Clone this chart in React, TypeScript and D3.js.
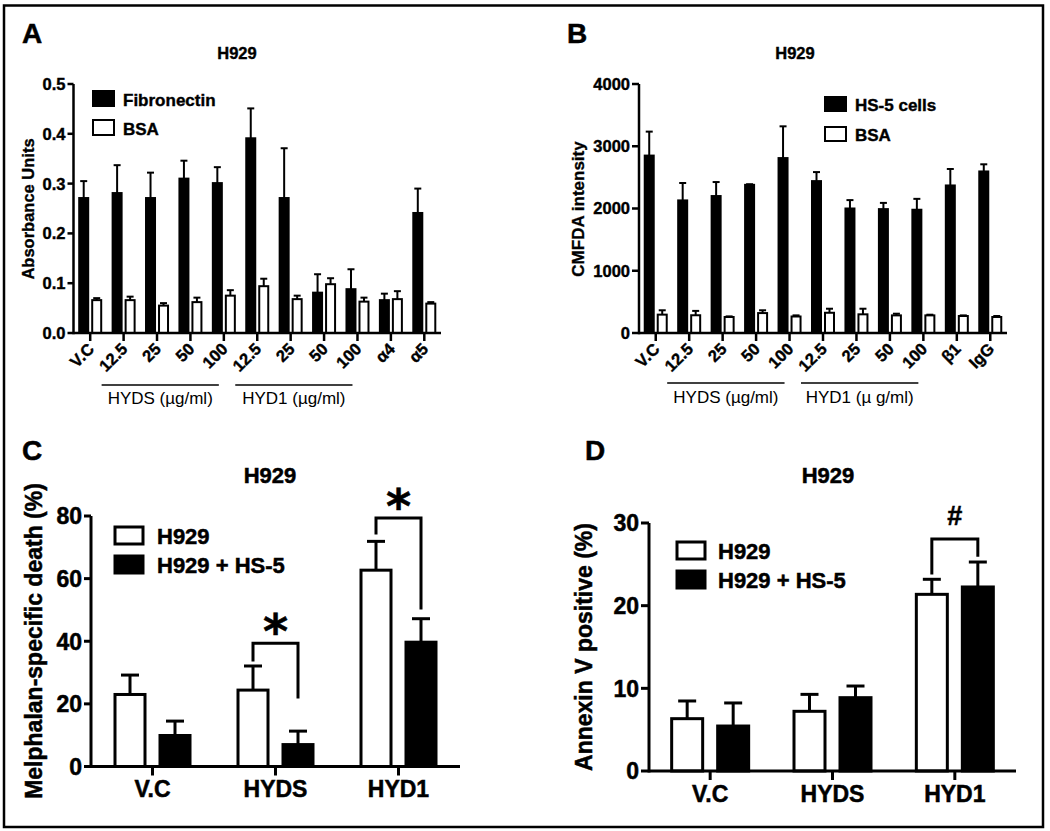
import React from 'react';
import * as d3 from 'd3';

// ---------- DATA ----------
const catsA = ['V.C', '12.5', '25', '50', '100', '12.5', '25', '50', '100', 'α4', 'α5'];
const fibronectin = [0.271, 0.281, 0.271, 0.31, 0.301, 0.391, 0.271, 0.081, 0.088, 0.066, 0.241];
const fibronectinErr = [0.034, 0.056, 0.051, 0.036, 0.032, 0.06, 0.1, 0.037, 0.04, 0.013, 0.049];
const bsaA = [0.066, 0.066, 0.055, 0.062, 0.075, 0.094, 0.068, 0.098, 0.063, 0.068, 0.059];
const bsaAErr = [0.004, 0.007, 0.005, 0.009, 0.011, 0.015, 0.007, 0.012, 0.008, 0.016, 0.003];
const ticksA = [0, 0.1, 0.2, 0.3, 0.4, 0.5];

const catsB = ['V.C', '12.5', '25', '50', '100', '12.5', '25', '50', '100', 'β1', 'IgG'];
const hs5Cells = [2850, 2130, 2200, 2380, 2810, 2440, 2000, 1990, 1980, 2370, 2595];
const hs5CellsErr = [385, 280, 225, 10, 510, 145, 135, 100, 175, 265, 115];
const bsaB = [295, 285, 257, 320, 265, 325, 300, 283, 283, 273, 257];
const bsaBErr = [70, 70, 10, 45, 18, 65, 90, 27, 11, 10, 16];
const ticksB = [0, 1000, 2000, 3000, 4000];

const catsCD = ['V.C', 'HYDS', 'HYD1'];
const deathH929 = [23.0, 24.4, 62.7];
const deathH929Err = [6.2, 7.7, 9.2];
const deathHS5 = [9.9, 7.0, 39.7];
const deathHS5Err = [4.6, 4.3, 7.5];
const ticksC = [0, 20, 40, 60, 80];

const annexH929 = [6.33, 7.22, 21.37];
const annexH929Err = [2.14, 2.05, 1.82];
const annexHS5 = [5.44, 8.87, 22.26];
const annexHS5Err = [2.79, 1.41, 3.02];
const ticksD = [0, 10, 20, 30];

// brackets: [group index, top value, left end value, right end value, symbol]
const bracketsC: [number, number, number, number, string][] = [
  [1, 39.4, 34, 22.2, '*'],
  [2, 79.4, 74.6, 50.6, '*'],
];
const bracketsD: [number, number, number, number, string][] = [[2, 28.06, 23.95, 26.1, '#']];

// sub-group labels [first index, last index, text]
const groupsA: [number, number, string][] = [
  [1, 4, 'HYDS (µg/ml)'],
  [5, 8, 'HYD1 (µg/ml)'],
];
const groupsB: [number, number, string][] = [
  [1, 4, 'HYDS (µg/ml)'],
  [5, 8, 'HYD1 (µ g/ml)'],
];

const FONT = '"Liberation Sans", Arial, Helvetica, sans-serif';

type Series = { values: number[]; errs: number[]; fill: string; off: number };

type PanelProps = {
  cats: string[];
  series: Series[];
  max: number;
  ticks: number[];
  fmt: (v: number) => string;
  xL: number;
  xR: number;
  yB: number;
  yT: number;
  barW: number;
  capW: number;
  sw: number;
  axisW: number;
  tickFont: number;
  catFont: number;
  rotate: boolean;
  yTickLen: number;
  xTickLen: number;
  labelGap: number;
  catBaseline: number;
  heavy: number;
  brackets?: [number, number, number, number, string][];
  groups?: [number, number, string][];
  groupLineY?: number;
  groupTextY?: number;
};

function Panel(p: PanelProps) {
  const x = d3
    .scaleBand<string>()
    .domain(p.cats.map((_, i) => String(i)))
    .range([p.xL, p.xR]);
  const y = d3.scaleLinear().domain([0, p.max]).range([p.yB, p.yT]);
  const cx = (i: number) => (x(String(i)) as number) + x.bandwidth() / 2;
  const els: React.ReactNode[] = [];
  const heavyProps = { stroke: '#000', strokeWidth: p.heavy };

  p.series.forEach((s, si) => {
    s.values.forEach((v, i) => {
      const bx = cx(i) + s.off;
      const top = y(v);
      const et = y(v + s.errs[i]);
      els.push(
        <g key={`b${si}-${i}`}>
          <line x1={bx} x2={bx} y1={top} y2={et} stroke="#000" strokeWidth={p.sw} />
          <line x1={bx - p.capW / 2} x2={bx + p.capW / 2} y1={et} y2={et} stroke="#000" strokeWidth={p.sw} />
          <rect
            x={bx - p.barW / 2}
            y={top}
            width={p.barW}
            height={p.yB - top}
            fill={s.fill}
            stroke="#000"
            strokeWidth={p.sw}
          />
        </g>
      );
    });
  });

  // axes
  els.push(
    <line key="yaxis" x1={p.xL} x2={p.xL} y1={p.yB + p.axisW / 2} y2={p.yT} stroke="#000" strokeWidth={p.axisW} />
  );
  els.push(<line key="xaxis" x1={p.xL} x2={p.xR} y1={p.yB} y2={p.yB} stroke="#000" strokeWidth={p.axisW} />);
  p.ticks.forEach((t) => {
    els.push(
      <g key={`yt${t}`}>
        <line x1={p.xL - p.yTickLen} x2={p.xL} y1={y(t)} y2={y(t)} stroke="#000" strokeWidth={p.axisW} />
        <text
          x={p.xL - p.yTickLen - p.labelGap}
          y={y(t)}
          dy="0.36em"
          textAnchor="end"
          fontFamily={FONT}
          fontWeight="bold"
          fontSize={p.tickFont}
          {...heavyProps}
        >
          {p.fmt(t)}
        </text>
      </g>
    );
  });
  p.cats.forEach((c, i) => {
    const xx = cx(i);
    els.push(
      <line key={`xt${i}`} x1={xx} x2={xx} y1={p.yB} y2={p.yB + p.xTickLen} stroke="#000" strokeWidth={p.axisW} />
    );
    if (p.rotate) {
      els.push(
        <text
          key={`xl${i}`}
          transform={`translate(${xx + 5},${p.catBaseline}) rotate(-45)`}
          textAnchor="end"
          fontFamily={FONT}
          fontWeight="bold"
          fontSize={p.catFont}
          {...heavyProps}
        >
          {c}
        </text>
      );
    } else {
      els.push(
        <text
          key={`xl${i}`}
          x={xx}
          y={p.catBaseline}
          textAnchor="middle"
          fontFamily={FONT}
          fontWeight="bold"
          fontSize={p.catFont}
          {...heavyProps}
        >
          {c}
        </text>
      );
    }
  });

  (p.groups || []).forEach(([a, b, label], gi) => {
    const x1 = cx(a) - 22;
    const x2 = cx(b) - 5;
    els.push(
      <g key={`grp${gi}`}>
        <line x1={x1} x2={x2} y1={p.groupLineY} y2={p.groupLineY} stroke="#000" strokeWidth={1.5} />
        <text x={(x1 + x2) / 2} y={p.groupTextY} textAnchor="middle" fontFamily={FONT} fontSize={17}>
          {label}
        </text>
      </g>
    );
  });

  (p.brackets || []).forEach(([g, top, l, r, sym], bi) => {
    const lx = cx(g) + p.series[0].off;
    const rx = cx(g) + p.series[1].off;
    const ty = y(top);
    const path = `M${lx},${y(l)}V${ty}H${rx}V${y(r)}`;
    const isStar = sym === '*';
    els.push(
      <g key={`br${bi}`}>
        <path d={path} fill="none" stroke="#000" strokeWidth={p.sw} strokeLinecap="square" />
        <text
          x={cx(g)}
          y={isStar ? ty + 5 : ty - 14}
          textAnchor="middle"
          fontFamily={isStar ? '"DejaVu Sans", sans-serif' : FONT}
          fontWeight="bold"
          fontSize={isStar ? 48 : 27}
          {...heavyProps}
        >
          {sym}
        </text>
      </g>
    );
  });

  return <g>{els}</g>;
}

function Legend({
  x,
  ys,
  w,
  h,
  items,
  textX,
  font,
  sw,
  heavy,
}: {
  x: number;
  ys: number[];
  w: number;
  h: number;
  items: [string, string][];
  textX: number;
  font: number;
  sw: number;
  heavy: number;
}) {
  return (
    <g>
      {items.map(([label, fill], i) => (
        <g key={label}>
          <rect x={x} y={ys[i]} width={w} height={h} fill={fill} stroke="#000" strokeWidth={sw} />
          <text
            x={textX}
            y={ys[i] + h}
            fontFamily={FONT}
            fontWeight="bold"
            fontSize={font}
            stroke="#000"
            strokeWidth={heavy}
          >
            {label}
          </text>
        </g>
      ))}
    </g>
  );
}

const Label = ({ x, y, t, size, anchor = 'start', heavy = 0.3 }: any) => (
  <text
    x={x}
    y={y}
    fontFamily={FONT}
    fontWeight="bold"
    fontSize={size}
    textAnchor={anchor}
    stroke="#000"
    strokeWidth={heavy}
  >
    {t}
  </text>
);

const YTitle = ({ x, y, t, size, heavy = 0.3 }: any) => (
  <text
    transform={`translate(${x},${y}) rotate(-90)`}
    textAnchor="middle"
    fontFamily={FONT}
    fontWeight="bold"
    fontSize={size}
    stroke="#000"
    strokeWidth={heavy}
  >
    {t}
  </text>
);

export default function App() {
  const fmtA = d3.format('.1f');
  const fmtInt = d3.format('d');
  return (
    <svg
      width={1050}
      height={831}
      style={{ position: 'absolute', left: 0, top: 0, background: '#fff' }}
      viewBox="0 0 1050 831"
    >
      <rect x={0} y={0} width={1050} height={831} fill="#fff" />
      <rect x={4} y={5.5} width={1039} height={821.5} fill="none" stroke="#000" strokeWidth={2.5} />

      {/* Panel A */}
      <Label x={22} y={43} t="A" size={28} heavy={0.5} />
      <Label x={237} y={59} t="H929" size={16.5} anchor="middle" heavy={0.4} />
      <YTitle x={34} y={209} t="Absorbance Units" size={16.5} heavy={0.35} />
      <Panel
        cats={catsA}
        series={[
          { values: fibronectin, errs: fibronectinErr, fill: '#000', off: -6.5 },
          { values: bsaA, errs: bsaAErr, fill: '#fff', off: 6.5 },
        ]}
        max={0.5}
        ticks={ticksA}
        fmt={fmtA}
        xL={73.5}
        xR={441}
        yB={333}
        yT={84}
        barW={9}
        capW={7}
        sw={2}
        axisW={2.5}
        tickFont={16.5}
        catFont={16.5}
        rotate
        yTickLen={6}
        xTickLen={8}
        labelGap={2}
        catBaseline={350}
        heavy={0.4}
        groups={groupsA}
        groupLineY={385}
        groupTextY={404}
      />
      <Legend
        x={93}
        ys={[91, 120]}
        w={21}
        h={15}
        items={[
          ['Fibronectin', '#000'],
          ['BSA', '#fff'],
        ]}
        textX={123}
        font={17}
        sw={2}
        heavy={0.4}
      />

      {/* Panel B */}
      <Label x={567} y={43} t="B" size={28} heavy={0.5} />
      <Label x={795} y={59} t="H929" size={16.5} anchor="middle" heavy={0.4} />
      <YTitle x={584} y={209} t="CMFDA intensity" size={17} heavy={0.35} />
      <Panel
        cats={catsB}
        series={[
          { values: hs5Cells, errs: hs5CellsErr, fill: '#000', off: -6.5 },
          { values: bsaB, errs: bsaBErr, fill: '#fff', off: 6.5 },
        ]}
        max={4000}
        ticks={ticksB}
        fmt={fmtInt}
        xL={639}
        xR={1007}
        yB={333}
        yT={84}
        barW={9}
        capW={7}
        sw={2}
        axisW={2.5}
        tickFont={16.5}
        catFont={16.5}
        rotate
        yTickLen={7}
        xTickLen={8}
        labelGap={2}
        catBaseline={350}
        heavy={0.4}
        groups={groupsB}
        groupLineY={383}
        groupTextY={403}
      />
      <Legend
        x={825}
        ys={[97, 127]}
        w={21}
        h={14}
        items={[
          ['HS-5 cells', '#000'],
          ['BSA', '#fff'],
        ]}
        textX={855}
        font={17}
        sw={2}
        heavy={0.4}
      />

      {/* Panel C */}
      <Label x={22} y={460} t="C" size={28} heavy={0.5} />
      <Label x={270} y={483} t="H929" size={22} anchor="middle" heavy={0.5} />
      <YTitle x={42} y={641} t="Melphalan-specific death (%)" size={23} heavy={0.5} />
      <Panel
        cats={catsCD}
        series={[
          { values: deathH929, errs: deathH929Err, fill: '#fff', off: -22.5 },
          { values: deathHS5, errs: deathHS5Err, fill: '#000', off: 22.5 },
        ]}
        max={80}
        ticks={ticksC}
        fmt={fmtInt}
        xL={91}
        xR={460}
        yB={766.5}
        yT={516}
        barW={30}
        capW={18}
        sw={3}
        axisW={3}
        tickFont={23}
        catFont={23}
        rotate={false}
        yTickLen={7}
        xTickLen={9}
        labelGap={2}
        catBaseline={797}
        heavy={0.5}
        brackets={bracketsC}
      />
      <Legend
        x={115}
        ys={[527, 556]}
        w={28}
        h={17}
        items={[
          ['H929', '#fff'],
          ['H929 + HS-5', '#000'],
        ]}
        textX={157}
        font={22}
        sw={3}
        heavy={0.5}
      />

      {/* Panel D */}
      <Label x={585} y={460} t="D" size={28} heavy={0.5} />
      <Label x={828} y={483} t="H929" size={22} anchor="middle" heavy={0.5} />
      <YTitle x={592} y={647} t="Annexin V positive (%)" size={23} heavy={0.5} />
      <Panel
        cats={catsCD}
        series={[
          { values: annexH929, errs: annexH929Err, fill: '#fff', off: -23 },
          { values: annexHS5, errs: annexHS5Err, fill: '#000', off: 23 },
        ]}
        max={30}
        ticks={ticksD}
        fmt={fmtInt}
        xL={649}
        xR={1016}
        yB={771}
        yT={523}
        barW={31}
        capW={18}
        sw={3}
        axisW={3}
        tickFont={23}
        catFont={23}
        rotate={false}
        yTickLen={8}
        xTickLen={9}
        labelGap={2}
        catBaseline={802}
        heavy={0.5}
        brackets={bracketsD}
      />
      <Legend
        x={677}
        ys={[542, 571]}
        w={28}
        h={17}
        items={[
          ['H929', '#fff'],
          ['H929 + HS-5', '#000'],
        ]}
        textX={718}
        font={22}
        sw={3}
        heavy={0.5}
      />
    </svg>
  );
}
